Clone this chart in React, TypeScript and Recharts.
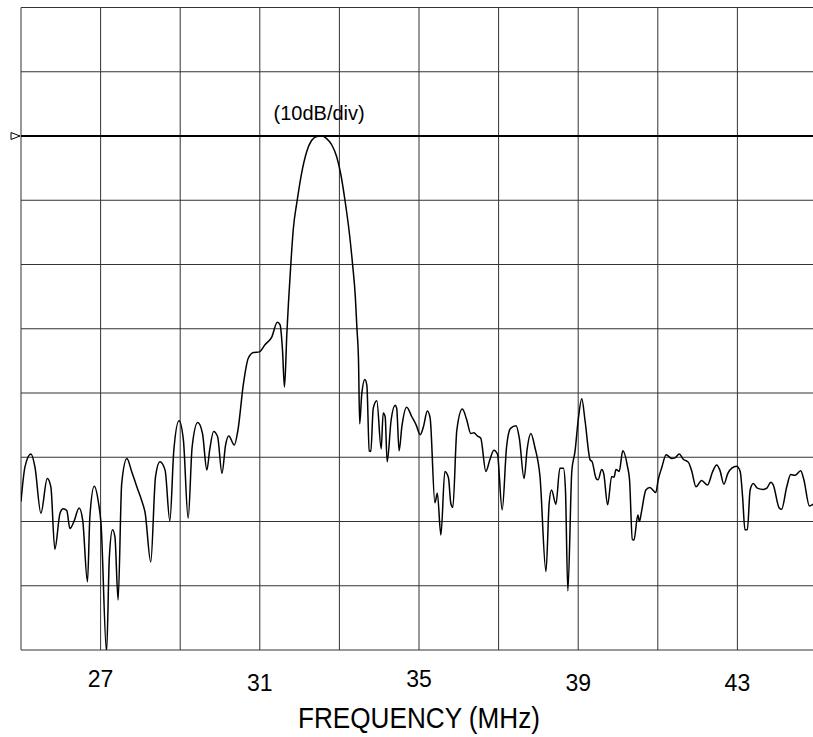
import { LineChart, Line, XAxis, YAxis, CartesianGrid, ReferenceLine, ReferenceDot } from "recharts";

// frequency (MHz) and level (dB, 0 = reference line)
const freq = [
  25.0, 25.1, 25.25, 25.35, 25.5, 25.66, 25.75, 25.85, 25.98, 26.06, 26.15, 26.23, 26.33, 26.46, 26.55, 26.67,
  26.73, 26.84, 26.95, 27.01, 27.15, 27.22, 27.3, 27.36, 27.44, 27.53, 27.66, 27.78, 27.91, 28.03, 28.12, 28.26,
  28.38, 28.49, 28.62, 28.74, 28.84, 28.97, 29.08, 29.2, 29.3, 29.44, 29.56, 29.67, 29.74, 29.84, 29.94, 30.05,
  30.14, 30.22, 30.36, 30.45, 30.59, 30.71, 30.84, 30.99, 31.13, 31.3, 31.44, 31.51, 31.57, 31.62, 31.68, 31.72,
  31.78, 31.84, 31.94, 32.05, 32.18, 32.3, 32.43, 32.56, 32.68, 32.81, 32.93, 33.03, 33.14, 33.25, 33.33, 33.4,
  33.44, 33.48, 33.51, 33.56, 33.64, 33.69, 33.75, 33.79, 33.85, 33.94, 34.05, 34.1, 34.15, 34.2, 34.3, 34.4,
  34.44, 34.5, 34.57, 34.69, 34.82, 34.93, 35.03, 35.11, 35.21, 35.28, 35.4, 35.46, 35.55, 35.65, 35.74, 35.8,
  35.85, 35.95, 36.09, 36.2, 36.3, 36.38, 36.47, 36.55, 36.68, 36.78, 36.88, 36.97, 37.09, 37.2, 37.3, 37.44,
  37.52, 37.64, 37.72, 37.81, 37.91, 38.04, 38.19, 38.27, 38.33, 38.44, 38.54, 38.63, 38.68, 38.74, 38.84, 38.92,
  39.0, 39.09, 39.17, 39.3, 39.35, 39.45, 39.5, 39.59, 39.64, 39.74, 39.84, 39.9, 39.95, 40.03, 40.12, 40.24,
  40.29, 40.36, 40.4, 40.5, 40.54, 40.59, 40.7, 40.8, 40.95, 41.01, 41.1, 41.21, 41.35, 41.43, 41.54, 41.64,
  41.77, 41.85, 41.96, 42.1, 42.25, 42.38, 42.48, 42.56, 42.66, 42.76, 42.86, 42.98, 43.07, 43.13, 43.19, 43.25,
  43.32, 43.4, 43.5, 43.65, 43.74, 43.84, 43.9, 44.05, 44.11, 44.24, 44.34, 44.45, 44.59, 44.67, 44.81, 44.91,
];
const level = [
  -56.9, -51.5, -49.5, -51.5, -58.7, -53.3, -54.6, -64.3, -58.7, -58.0, -58.3, -61.1, -60.0, -57.9, -59.8, -69.4,
  -59.3, -54.5, -57.2, -60.3, -80.3, -65.5, -61.3, -62.4, -72.2, -54.1, -50.2, -52.2, -54.6, -56.7, -58.7, -66.3,
  -53.0, -50.7, -52.0, -59.9, -48.9, -44.3, -47.3, -59.5, -48.4, -44.6, -46.3, -52.0, -48.9, -46.0, -46.8, -52.5,
  -48.1, -46.7, -48.1, -45.8, -38.5, -34.6, -33.7, -33.6, -32.5, -31.3, -29.0, -29.4, -33.3, -39.1, -30.7, -26.0,
  -19.9, -14.6, -10.0, -5.8, -2.4, -0.7, -0.1, 0.0, -0.4, -1.4, -3.2, -5.8, -10.0, -15.1, -19.9, -25.0,
  -29.9, -34.9, -44.8, -40.3, -37.9, -38.8, -49.0, -49.1, -42.4, -41.2, -48.7, -43.1, -43.7, -50.7, -44.2, -41.9,
  -42.4, -49.0, -45.2, -42.2, -43.7, -45.0, -46.5, -45.3, -42.8, -43.9, -57.1, -55.6, -62.1, -52.2, -53.2, -57.2,
  -57.8, -45.8, -42.5, -44.2, -46.3, -46.2, -46.7, -47.0, -52.2, -50.4, -48.9, -49.5, -58.2, -48.4, -45.5, -45.1,
  -47.0, -53.3, -48.6, -46.3, -48.4, -53.0, -67.8, -57.2, -55.1, -57.3, -51.7, -51.7, -55.1, -70.8, -52.1, -49.1,
  -44.2, -40.9, -44.2, -50.4, -50.7, -53.3, -53.5, -51.9, -52.5, -57.4, -53.0, -53.1, -51.9, -52.2, -49.0, -51.5,
  -53.5, -62.8, -62.9, -59.0, -60.0, -58.5, -55.1, -54.7, -55.5, -53.5, -51.6, -49.6, -50.2, -50.1, -49.5, -50.3,
  -50.8, -52.1, -54.6, -53.6, -54.3, -52.2, -51.2, -52.0, -54.2, -52.5, -51.7, -51.4, -52.2, -56.1, -61.3, -61.3,
  -55.1, -54.1, -54.8, -55.0, -54.8, -53.9, -54.3, -57.9, -58.1, -54.6, -52.7, -52.8, -52.1, -53.5, -57.6, -57.3,
];

const gridFreqs = [25, 27, 29, 31, 33, 35, 37, 39, 41, 43, 45];
const labelledFreqs = [27, 31, 35, 39, 43];
const levelTicks = [-80, -70, -60, -50, -40, -30, -20, -10, 10, 20]; // 0 dB is the reference line

const data = freq.map((f, i) => ({ f, db: level[i] }));

const FONT = "'Liberation Sans', Arial, sans-serif";

// labels in the original sit at two slightly different heights
const tickDrop: Record<number, number> = { 27: 37, 31: 40.5, 35: 36.7, 39: 40.5, 43: 40.5 };

function FreqTick({ x, y, payload }: any) {
  const v = payload.value;
  if (!labelledFreqs.includes(v)) return null;
  return (
    <text x={x} y={y + tickDrop[v]} textAnchor="middle" fontSize={23} fill="#000" fontFamily={FONT}>
      {v}
    </text>
  );
}

function RefMarker(props: any) {
  const { x, y } = props.viewBox;
  return (
    <polygon
      points={`${x - 10},${y - 3.5} ${x - 10},${y + 3.5} ${x - 1},${y}`}
      fill="#fff"
      stroke="#000"
      strokeWidth={1}
    />
  );
}

function AxisTitle(props: any) {
  const { x, y, width } = props.viewBox;
  return (
    <text
      x={x + width / 2}
      y={y + 78}
      textAnchor="middle"
      fontSize={29}
      fill="#000"
      fontFamily={FONT}
      textLength={242}
      lengthAdjust="spacingAndGlyphs"
    >
      FREQUENCY (MHz)
    </text>
  );
}

export default function App() {
  return (
    <div style={{ position: "absolute", left: 0, top: 0, width: 813, height: 737, overflow: "hidden", background: "#fff" }}>
      <LineChart
        width={830}
        height={737}
        data={data}
        margin={{ top: 7.5, right: 13, bottom: 0, left: 21 }}
        style={{ fontFamily: FONT }}
      >
        <CartesianGrid stroke="#333" strokeWidth={1} horizontal={false} />
        <XAxis
          dataKey="f"
          type="number"
          domain={[25, 45]}
          allowDataOverflow
          ticks={gridFreqs}
          interval={0}
          tickLine={false}
          axisLine={false}
          tickSize={0}
          tickMargin={0}
          height={87}
          tick={<FreqTick />}
          label={<AxisTitle />}
        />
        <YAxis
          type="number"
          domain={[-80, 20]}
          allowDataOverflow
          width={0}
          tick={false}
          tickLine={false}
          axisLine={false}
        />
        {levelTicks.map((t) => (
          <ReferenceLine key={t} y={t} stroke="#333" strokeWidth={1} />
        ))}
        <ReferenceLine y={0} stroke="#000" strokeWidth={2} label={<RefMarker />} />
        <ReferenceDot
          x={32.49}
          y={3.6}
          r={0}
          fill="none"
          stroke="none"
          label={{ value: "(10dB/div)", position: "center", fontSize: 20, fill: "#000", fontFamily: FONT }}
        />
        <Line
          type="monotone"
          dataKey="db"
          stroke="#000"
          strokeWidth={1.5}
          dot={false}
          isAnimationActive={false}
        />
      </LineChart>
    </div>
  );
}
